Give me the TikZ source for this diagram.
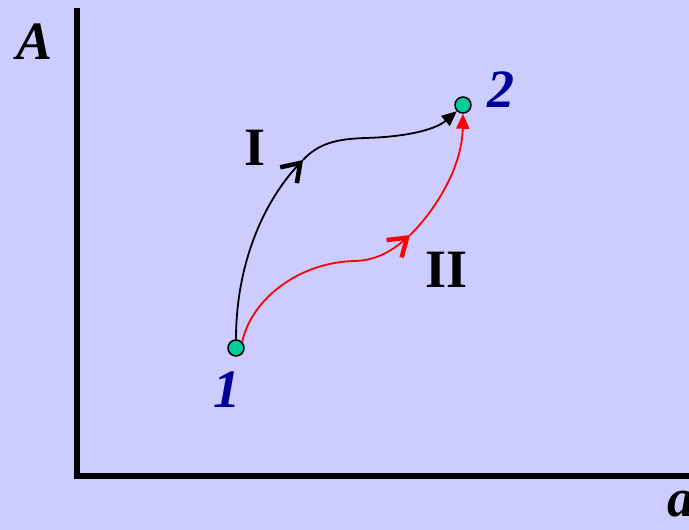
\documentclass[tikz,border=0pt]{standalone}
\usepackage{fontspec}
\setmainfont{Liberation Serif}
\usetikzlibrary{arrows.meta}
\definecolor{bg}{RGB}{204,204,255}
\definecolor{pt}{RGB}{0,204,153}
\definecolor{lbl}{RGB}{0,0,153}
\begin{document}
\begin{tikzpicture}[x=1pt,y=-1pt,
  axis/.style={line width=6pt},
  curve/.style={line width=1.8pt},
  midtip/.style={-{Straight Barb[length=17pt,width=23pt,line width=4.5pt]}},
  endtip/.style={-{Triangle[length=15pt,width=13pt]}},
  dot/.style={circle,draw=black,fill=pt,line width=1.5pt,minimum size=16pt,inner sep=0pt},
  big/.style={font=\fontsize{54}{60}\selectfont\bfseries},
  bigi/.style={font=\fontsize{54}{60}\selectfont\bfseries\itshape}]
\fill[bg] (0,0) rectangle (689,530);
\useasboundingbox (0,0) rectangle (689,530);
\coordinate (ytop) at (77,8);
\coordinate (orig) at (77,476);
\coordinate (xend) at (689,476);
\draw[axis] (ytop) -- (77,479);
\draw[axis] (74,476) -- (xend);
\node[bigi] (A) at (35,42) {A};
\node[bigi,anchor=north west] (a) at (664,488) {a};
\node[dot] (p1) at (236,348) {};
\node[dot] (p2) at (463,105) {};
\node[bigi,text=lbl] (l1) at (227,390) {1};
\node[bigi,text=lbl] (l2) at (501,90) {2};
\node[big] (I) at (255,148) {I};
\node[big] (II) at (447,270) {II};
\coordinate (m1) at (303,160);
\coordinate (m2) at (410,235);
% path I
\draw[curve,midtip] (p1.north) .. controls (236,262) and (265,200) .. (m1);
\draw[curve,endtip] (m1) .. controls (318,144) and (335,139) .. (365,138) .. controls (405,137) and (435,130) .. (p2.south west);
% path II
\draw[curve,red,midtip] (p1.north east) .. controls (252,298) and (300,262) .. (355,261) .. controls (380,260) and (395,248) .. (m2);
\draw[curve,red,endtip] (m2) .. controls (432,214) and (462,170) .. (p2.south);
\end{tikzpicture}
\end{document}
